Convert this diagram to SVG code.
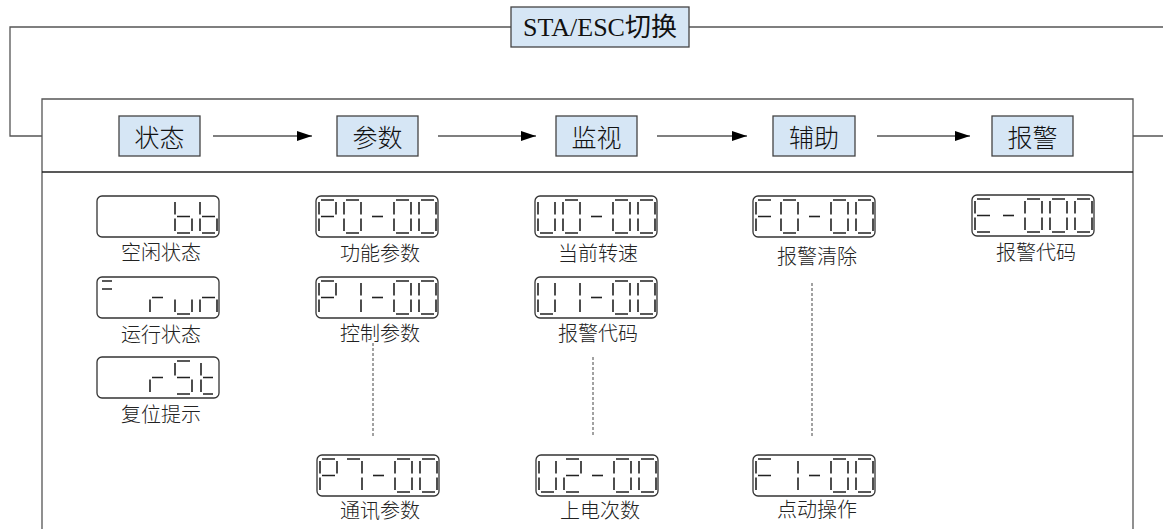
<svg xmlns="http://www.w3.org/2000/svg" xmlns:xlink="http://www.w3.org/1999/xlink" width="1163" height="529" viewBox="0 0 1163 529">
<style>
.frame{fill:none;stroke:#555;stroke-width:1.3}
.divider{stroke:#222;stroke-width:1.5}
.conn{fill:none;stroke:#555;stroke-width:1.5}
.dash{fill:none;stroke:#444;stroke-width:1;stroke-dasharray:3 2}
.mode{fill:#d6e6f5;stroke:#444;stroke-width:1.3}
.modetxt{font-family:"Noto Sans CJK SC","Noto Sans",sans-serif;font-weight:300;font-size:25px;fill:#111;text-anchor:middle;dominant-baseline:central}
.title{font-family:"Liberation Serif","Noto Sans CJK SC",serif;font-size:26px;fill:#111;text-anchor:middle}
.disp{fill:#fff;stroke:#333;stroke-width:1.3}
.seg{fill:none;stroke:#222;stroke-width:1.6;stroke-linecap:butt}
.lbl{font-family:"Noto Sans CJK SC","Noto Sans",sans-serif;font-weight:300;font-size:20px;fill:#222;text-anchor:middle;dominant-baseline:central}
</style>
<defs>
<marker id="arr" markerUnits="userSpaceOnUse" markerWidth="15" markerHeight="10" refX="15" refY="5" orient="auto">
<path d="M0,0 L15,5 L0,10 z" fill="#000"/>
</marker>
<path id="c0" class="seg" d="M2,0H15M17,2V14.5M17,18.5V31M2,33H15M0,18.5V31M0,2V14.5"/>
<path id="c1" class="seg" d="M17,2V14.5M17,18.5V31"/>
<path id="c2" class="seg" d="M2,0H15M17,2V14.5M2,16.5H15M0,18.5V31M2,33H15"/>
<path id="c7" class="seg" d="M2,0H15M17,2V14.5M17,18.5V31"/>
<path id="cP" class="seg" d="M2,0H15M17,2V14.5M0,2V14.5M2,16.5H15M0,18.5V31"/>
<path id="cU" class="seg" d="M17,2V14.5M17,18.5V31M2,33H15M0,18.5V31M0,2V14.5"/>
<path id="cF" class="seg" d="M2,0H15M0,2V14.5M2,16.5H15M0,18.5V31"/>
<path id="cE" class="seg" d="M2,0H15M0,2V14.5M2,16.5H15M0,18.5V31M2,33H15"/>
<path id="cm" class="seg" d="M3,16.5H14"/>
<path id="cb" class="seg" d="M0,2V14.5M0,18.5V31M2,16.5H15M17,18.5V31M2,33H15"/>
<path id="cr" class="seg" d="M0,18.5V31M2,16.5H13"/>
<path id="cu" class="seg" d="M0,18.5V31M2,33H15M17,18.5V31"/>
<path id="cn" class="seg" d="M0,18.5V31M2,16.5H15M17,18.5V31"/>
<path id="cS" class="seg" d="M2,0H15M0,2V14.5M2,16.5H15M17,18.5V31M2,33H15"/>
<path id="ct" class="seg" d="M0,2V14.5M0,18.5V31M2,16.5H12M2,33H12"/>
</defs>
<rect width="1163" height="529" fill="#fff"/>

<g id="connectors">
<path class="frame" d="M511,27H10V136H42M689,27H1163M1133,136H1163"/>
<line class="conn" x1="213" y1="136" x2="312" y2="136" marker-end="url(#arr)"/>
<line class="conn" x1="438" y1="136" x2="536" y2="136" marker-end="url(#arr)"/>
<line class="conn" x1="657" y1="136" x2="747" y2="136" marker-end="url(#arr)"/>
<line class="conn" x1="877" y1="136" x2="970" y2="136" marker-end="url(#arr)"/>
<line class="dash" x1="373" y1="343" x2="373" y2="437"/>
<line class="dash" x1="593" y1="357" x2="593" y2="437"/>
<line class="dash" x1="812" y1="283" x2="812" y2="438"/>
</g>

<g id="frame">
<path class="frame" d="M42,529V99H1133V529"/>
<line class="divider" x1="42" y1="172" x2="1133" y2="172"/>
</g>

<g id="switch">
<rect class="mode" x="511" y="7" width="178" height="40"/>
<text class="title" x="600" y="36">STA/ESC切换</text>
</g>

<g id="mode-status"><rect class="mode" x="119" y="116" width="81" height="40"/><text class="modetxt" x="159.5" y="136">状态</text></g>
<g id="mode-param"><rect class="mode" x="337" y="116" width="81" height="40"/><text class="modetxt" x="377.5" y="136">参数</text></g>
<g id="mode-monitor"><rect class="mode" x="556" y="116" width="81" height="40"/><text class="modetxt" x="596.5" y="136">监视</text></g>
<g id="mode-aux"><rect class="mode" x="773" y="116" width="82" height="40"/><text class="modetxt" x="814" y="136">辅助</text></g>
<g id="mode-alarm"><rect class="mode" x="992" y="116" width="81" height="40"/><text class="modetxt" x="1032.5" y="136">报警</text></g>

<g id="disp-idle">
<rect class="disp" x="97" y="196" width="122" height="41" rx="5"/>
<use xlink:href="#cb" x="175" y="200"/><use xlink:href="#cb" x="200" y="200"/>
<text class="lbl" x="161" y="251">空闲状态</text>
</g>
<g id="disp-run">
<rect class="disp" x="97" y="277" width="122" height="41" rx="5"/>
<path class="seg" d="M102,281H112M102,289H112"/>
<use xlink:href="#cr" x="150" y="281"/><use xlink:href="#cu" x="175" y="281"/><use xlink:href="#cn" x="200" y="281"/>
<text class="lbl" x="161" y="333">运行状态</text>
</g>
<g id="disp-rst">
<rect class="disp" x="97" y="357" width="122" height="41" rx="5"/>
<use xlink:href="#cr" x="150" y="361"/><use xlink:href="#cS" x="175" y="361"/><use xlink:href="#ct" x="201" y="361"/>
<text class="lbl" x="161" y="413">复位提示</text>
</g>

<g id="disp-p0">
<rect class="disp" x="316" y="196" width="122" height="41" rx="5"/>
<use xlink:href="#cP" x="319" y="200"/><use xlink:href="#c0" x="344" y="200"/><use xlink:href="#cm" x="369" y="200"/><use xlink:href="#c0" x="394" y="200"/><use xlink:href="#c0" x="419" y="200"/>
<text class="lbl" x="380" y="252">功能参数</text>
</g>
<g id="disp-p1">
<rect class="disp" x="316" y="277" width="122" height="41" rx="5"/>
<use xlink:href="#cP" x="319" y="281"/><use xlink:href="#c1" x="344" y="281"/><use xlink:href="#cm" x="369" y="281"/><use xlink:href="#c0" x="394" y="281"/><use xlink:href="#c0" x="419" y="281"/>
<text class="lbl" x="380" y="332">控制参数</text>
</g>
<g id="disp-p7">
<rect class="disp" x="317" y="455" width="122" height="41" rx="5"/>
<use xlink:href="#cP" x="320" y="459"/><use xlink:href="#c7" x="345" y="459"/><use xlink:href="#cm" x="370" y="459"/><use xlink:href="#c0" x="395" y="459"/><use xlink:href="#c0" x="420" y="459"/>
<text class="lbl" x="380" y="509">通讯参数</text>
</g>

<g id="disp-u0">
<rect class="disp" x="535" y="196" width="122" height="41" rx="5"/>
<use xlink:href="#cU" x="538" y="200"/><use xlink:href="#c0" x="563" y="200"/><use xlink:href="#cm" x="588" y="200"/><use xlink:href="#c0" x="613" y="200"/><use xlink:href="#c0" x="638" y="200"/>
<text class="lbl" x="598" y="252">当前转速</text>
</g>
<g id="disp-u1">
<rect class="disp" x="535" y="277" width="122" height="41" rx="5"/>
<use xlink:href="#cU" x="538" y="281"/><use xlink:href="#c1" x="563" y="281"/><use xlink:href="#cm" x="588" y="281"/><use xlink:href="#c0" x="613" y="281"/><use xlink:href="#c0" x="638" y="281"/>
<text class="lbl" x="598" y="332">报警代码</text>
</g>
<g id="disp-u2">
<rect class="disp" x="536" y="455" width="122" height="41" rx="5"/>
<use xlink:href="#cU" x="539" y="459"/><use xlink:href="#c2" x="564" y="459"/><use xlink:href="#cm" x="589" y="459"/><use xlink:href="#c0" x="614" y="459"/><use xlink:href="#c0" x="639" y="459"/>
<text class="lbl" x="600" y="509">上电次数</text>
</g>

<g id="disp-f0">
<rect class="disp" x="753" y="196" width="122" height="41" rx="5"/>
<use xlink:href="#cF" x="756" y="200"/><use xlink:href="#c0" x="781" y="200"/><use xlink:href="#cm" x="806" y="200"/><use xlink:href="#c0" x="831" y="200"/><use xlink:href="#c0" x="856" y="200"/>
<text class="lbl" x="817" y="255">报警清除</text>
</g>
<g id="disp-f1">
<rect class="disp" x="753" y="455" width="122" height="41" rx="5"/>
<use xlink:href="#cF" x="756" y="459"/><use xlink:href="#c1" x="781" y="459"/><use xlink:href="#cm" x="806" y="459"/><use xlink:href="#c0" x="831" y="459"/><use xlink:href="#c0" x="856" y="459"/>
<text class="lbl" x="817" y="508">点动操作</text>
</g>

<g id="disp-e">
<rect class="disp" x="972" y="195" width="122" height="41" rx="5"/>
<use xlink:href="#cE" x="975" y="199"/><use xlink:href="#cm" x="1000" y="199"/><use xlink:href="#c0" x="1025" y="199"/><use xlink:href="#c0" x="1050" y="199"/><use xlink:href="#c0" x="1075" y="199"/>
<text class="lbl" x="1036" y="251">报警代码</text>
</g>
</svg>
